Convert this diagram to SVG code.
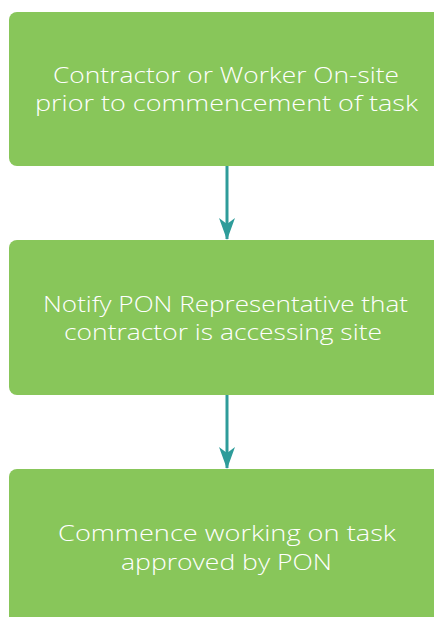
<svg xmlns="http://www.w3.org/2000/svg" width="434" height="617" viewBox="0 0 434 617">
<style>
.box{fill:#88c65a;}
.t{font-family:"Open Sans","Lato","DejaVu Sans",sans-serif;font-weight:300;font-size:22px;fill:#ffffff;text-anchor:middle;}
.c{stroke:#2e9c9a;stroke-width:3;fill:none;}
</style>
<defs>
<marker id="ah" markerWidth="22" markerHeight="16" refX="21" refY="8" orient="auto" markerUnits="userSpaceOnUse" viewBox="0 0 22 16">
<path d="M0,0 L6,8 L0,16 L22,8 Z" fill="#2e9c9a"/>
</marker>
</defs>
<g id="node1">
<rect class="box" x="9" y="12" width="440" height="154" rx="8"/>
<text class="t" x="226" y="83" textLength="346" lengthAdjust="spacingAndGlyphs">Contractor or Worker On-site</text>
<text class="t" x="226.5" y="111" textLength="383" lengthAdjust="spacingAndGlyphs">prior to commencement of task</text>
</g>
<g id="node2">
<rect class="box" x="9" y="240" width="440" height="155" rx="8"/>
<text class="t" x="225.5" y="312" textLength="365" lengthAdjust="spacingAndGlyphs">Notify PON Representative that</text>
<text class="t" x="223" y="340" textLength="318" lengthAdjust="spacingAndGlyphs">contractor is accessing site</text>
</g>
<g id="node3">
<rect class="box" x="9" y="469" width="440" height="160" rx="8"/>
<text class="t" x="227" y="541" textLength="338" lengthAdjust="spacingAndGlyphs">Commence working on task</text>
<text class="t" x="226.5" y="570" textLength="211" lengthAdjust="spacingAndGlyphs">approved by PON</text>
</g>
<g id="connectors">
<line class="c" x1="227" y1="166" x2="227" y2="239" marker-end="url(#ah)"/>
<line class="c" x1="227" y1="395" x2="227" y2="468" marker-end="url(#ah)"/>
</g>
</svg>
